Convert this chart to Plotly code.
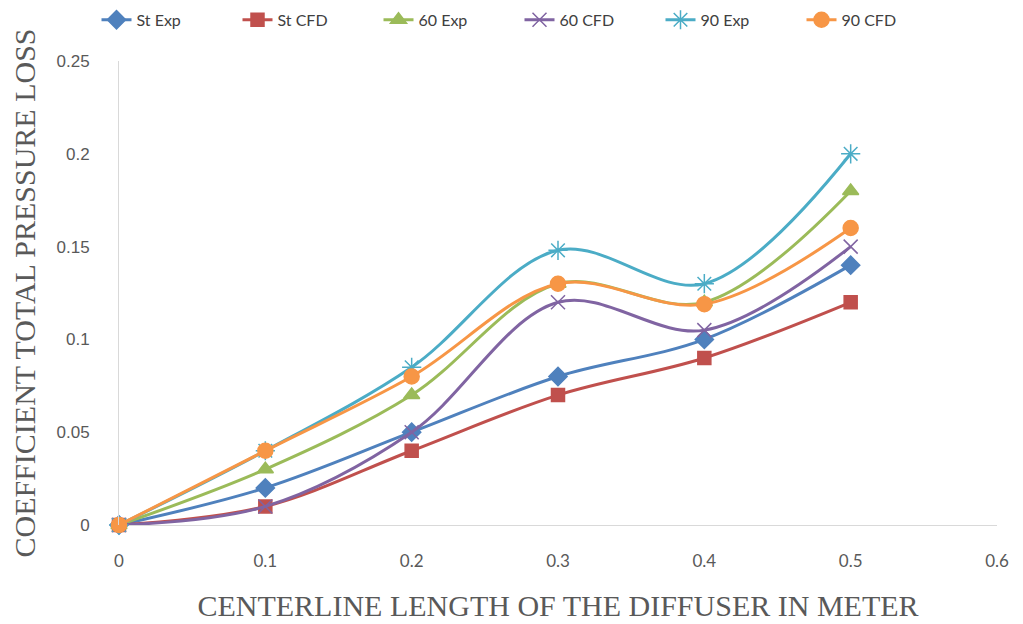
import plotly.graph_objects as go

x_vals = [0, 0.1, 0.2, 0.3, 0.4, 0.5]
st_exp = [0, 0.02, 0.05, 0.08, 0.10, 0.14]
st_cfd = [0, 0.01, 0.04, 0.07, 0.09, 0.12]
exp60 = [0, 0.03, 0.07, 0.13, 0.12, 0.18]
cfd60 = [0, 0.01, 0.05, 0.12, 0.105, 0.15]
exp90 = [0, 0.04, 0.085, 0.148, 0.13, 0.20]
cfd90 = [0, 0.04, 0.08, 0.13, 0.119, 0.16]

series = [
    ("St Exp", st_exp, "#4F81BD", "diamond", 14),
    ("St CFD", st_cfd, "#C0504D", "square", 13),
    ("60 Exp", exp60, "#9BBB59", "triangle-up", 14),
    ("60 CFD", cfd60, "#8064A2", "x-thin-open", 14),
    ("90 Exp", exp90, "#4BACC6", "asterisk-open", 16),
    ("90 CFD", cfd90, "#F79646", "circle", 15),
]

x_ticks = [0, 0.1, 0.2, 0.3, 0.4, 0.5, 0.6]
x_ticktext = ["0", "0.1", "0.2", "0.3", "0.4", "0.5", "0.6"]
y_ticks = [0, 0.05, 0.1, 0.15, 0.2, 0.25]
y_ticktext = ["0", "0.05", "0.1", "0.15", "0.2", "0.25"]

fig = go.Figure()
for name, vals, color, sym, size in series:
    fig.add_trace(go.Scatter(
        x=x_vals, y=vals, name=name, mode="lines+markers", cliponaxis=False,
        line=dict(color=color, width=3, shape="spline", smoothing=1.0),
        marker=dict(symbol=sym, size=size, color=color,
                    line=dict(color=color, width=1.5)),
    ))

fig.update_layout(
    width=1023, height=624,
    paper_bgcolor="white", plot_bgcolor="white",
    margin=dict(l=111, r=34, t=53, b=107, autoexpand=False),
    legend=dict(orientation="h", x=0.5, xanchor="center", xref="container",
                y=0.981, yanchor="middle", yref="container", entrywidth=96,
                font=dict(family="Lato, sans-serif", size=16, color="#404040"),
                traceorder="normal"),
    showlegend=True,
)
fig.update_xaxes(
    range=[0, 0.6], tickvals=x_ticks, ticktext=x_ticktext,
    showgrid=False, zeroline=False, showline=False,
    tickfont=dict(family="Lato, sans-serif", size=17, color="#595959"),
    ticks="", ticklabelstandoff=24,
    title=dict(text="CENTERLINE LENGTH OF THE DIFFUSER IN METER",
               font=dict(family="Liberation Serif, serif", size=30, color="#595959"),
               standoff=24),
)
fig.update_yaxes(
    range=[0, 0.25], tickvals=y_ticks, ticktext=y_ticktext,
    showgrid=False, zeroline=True, zerolinecolor="#D9D9D9", zerolinewidth=1,
    showline=True, linecolor="#D9D9D9", linewidth=1,
    tickfont=dict(family="Liberation Sans, sans-serif", size=17, color="#595959"),
    ticks="", ticklabelstandoff=25,
    title=dict(text="COEFFICIENT TOTAL PRESSURE LOSS",
               font=dict(family="Liberation Serif, serif", size=30, color="#595959"),
               standoff=14),
)
fig.write_html("out.html")
